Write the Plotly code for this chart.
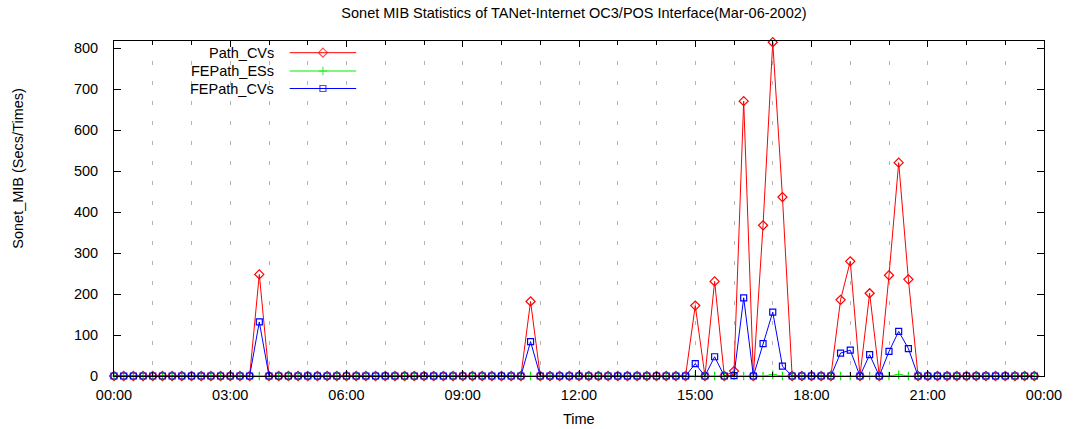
import plotly.graph_objects as go
import pandas as pd

# ---- data (15-minute samples, Mar-06-2002) ----
times = pd.date_range("2002-03-06 00:00", periods=96, freq="15min")

path_cvs = [0] * 96
fepath_ess = [0] * 96
fepath_cvs = [0] * 96

# non-zero readings: (sample index, value)
path_cvs_nonzero = {15: 248, 43: 182, 60: 172, 62: 231, 64: 12, 65: 671, 67: 368,
                    68: 815, 69: 437, 75: 186, 76: 280, 78: 202, 80: 246, 81: 521, 82: 236}
fepath_cvs_nonzero = {15: 132, 43: 84, 60: 30, 62: 47, 64: 1, 65: 191, 67: 79, 68: 156,
                      69: 24, 75: 56, 76: 63, 78: 52, 80: 60, 81: 109, 82: 67}
fepath_ess_nonzero = {68: 3, 81: 3}

for k, v in path_cvs_nonzero.items():
    path_cvs[k] = v
for k, v in fepath_cvs_nonzero.items():
    fepath_cvs[k] = v
for k, v in fepath_ess_nonzero.items():
    fepath_ess[k] = v

series_names = ["Path_CVs", "FEPath_ESs", "FEPath_CVs"]
series_values = [path_cvs, fepath_ess, fepath_cvs]
series_colors = ["#ff0000", "#00ee00", "#0000ff"]
series_symbols = ["diamond-open", "cross-thin-open", "square-open"]
series_sizes = [7, 6, 6]

x_tick_vals = pd.date_range("2002-03-06 00:00", periods=9, freq="3h")
x_tick_text = ["00:00", "03:00", "06:00", "09:00", "12:00", "15:00", "18:00", "21:00", "00:00"]

FONT = "Liberation Sans, Arial, Helvetica, sans-serif"
FS = 14.5

fig = go.Figure()
for name, vals, col, sym, sz in zip(series_names, series_values, series_colors,
                                    series_symbols, series_sizes):
    fig.add_trace(go.Scatter(
        x=times, y=vals, mode="lines+markers", name=name,
        line=dict(color=col, width=1),
        marker=dict(symbol=sym, size=sz, color=col, line=dict(color=col, width=1.2)),
        cliponaxis=False, showlegend=False,
    ))

# ---- custom gnuplot-style key (text right, sample on the right) ----
PL, PR, PT, PB = 114, 1051, 41, 376
key_rows = [52.7, 71.0, 88.5]
for name, col, sym, sz, yrow in zip(series_names, series_colors, series_symbols,
                                    series_sizes, key_rows):
    fig.add_trace(go.Scatter(
        x=[291, 324.5, 358], y=[yrow] * 3, mode="lines+markers",
        xaxis="x2", yaxis="y2",
        line=dict(color=col, width=1),
        marker=dict(symbol=sym, size=[0, sz, 0], color=col, line=dict(color=col, width=1.2)),
        showlegend=False, hoverinfo="skip", cliponaxis=False,
    ))
    fig.add_annotation(x=277, y=yrow, xref="x2", yref="y2", text=name,
                       showarrow=False, xanchor="right", yanchor="middle",
                       font=dict(family=FONT, size=FS, color="black"))

grid_color = "#b4b4b4"
fig.update_layout(
    width=1074, height=429,
    margin=dict(l=PL, r=1074 - PR, t=PT, b=429 - PB),
    paper_bgcolor="white", plot_bgcolor="white",
    font=dict(family=FONT, size=FS, color="black"),
    title=dict(text="Sonet MIB Statistics of TANet-Internet OC3/POS Interface(Mar-06-2002)",
               x=574 / 1074, xanchor="center", y=1 - 13 / 429, yanchor="middle",
               font=dict(family=FONT, size=FS, color="black")),
    xaxis=dict(
        type="date",
        range=["2002-03-06 00:00", "2002-03-07 00:00"],
        tickvals=x_tick_vals, ticktext=x_tick_text,
        ticks="inside", ticklen=6, tickcolor="black",
        showline=True, linecolor="black", linewidth=1, mirror="allticks",
        showgrid=False, zeroline=False,
        minor=dict(dtick=3600000, tick0="2002-03-06 00:00", ticks="inside", ticklen=4,
                   tickcolor="black", showgrid=True, gridcolor=grid_color,
                   griddash="4px,16px", gridwidth=1),
        ticklabelstandoff=6,
        tickfont=dict(family=FONT, size=FS, color="black"),
    ),
    yaxis=dict(
        range=[0, 818], dtick=100, tick0=0,
        ticks="inside", ticklen=7, tickcolor="black",
        showline=True, linecolor="black", linewidth=1, mirror="allticks",
        showgrid=False, zeroline=False,
        ticklabelstandoff=12,
        tickfont=dict(family=FONT, size=FS, color="black"),
    ),
    xaxis2=dict(overlaying="x", range=[PL, PR], visible=False, fixedrange=True),
    yaxis2=dict(overlaying="y", range=[PB, PT], visible=False, fixedrange=True),
)

fig.add_annotation(text="Time", x=(583 - PL) / (PR - PL), y=(PB - 419) / (PB - PT),
                   xref="paper", yref="paper", showarrow=False,
                   xanchor="center", yanchor="middle",
                   font=dict(family=FONT, size=FS, color="black"))
fig.add_annotation(text="Sonet_MIB (Secs/Times)", x=(17 - PL) / (PR - PL),
                   y=(PB - 168) / (PB - PT), xref="paper", yref="paper",
                   showarrow=False, textangle=-90, xanchor="center", yanchor="middle",
                   font=dict(family=FONT, size=FS, color="black"))

fig.write_html("out.html")
